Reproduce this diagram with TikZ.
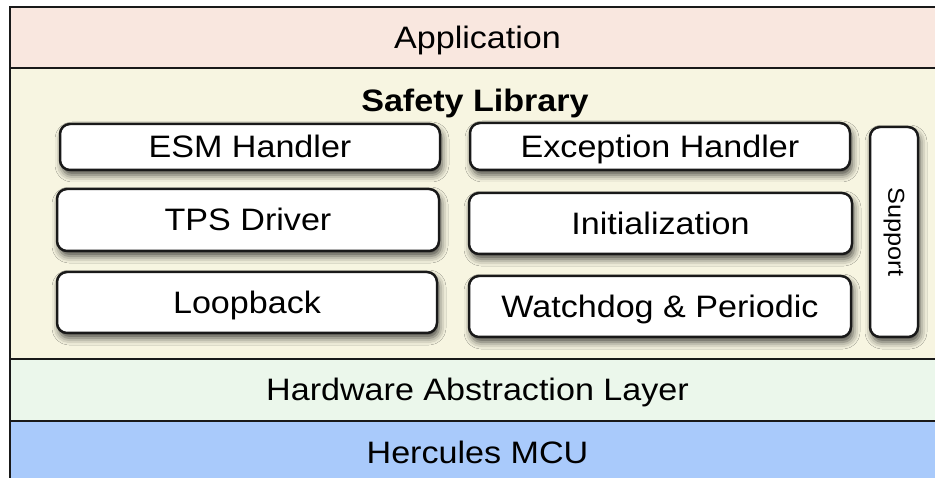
\documentclass[tikz,border=0pt]{standalone}
\usepackage{fontspec}
\setmainfont{Liberation Sans}[FakeStretch=1.1]
\usetikzlibrary{shadows.blur}
\definecolor{appfill}{HTML}{F9E7DF}
\definecolor{libfill}{HTML}{F7F5E1}
\definecolor{halfill}{HTML}{EBF7EB}
\definecolor{mcufill}{HTML}{A9CAFB}
\newcommand{\layerfont}{\fontsize{31}{36}\selectfont}
\tikzset{
  layer/.style={draw=black!90,line width=2pt,minimum width=935pt,inner sep=0pt,
    text height=22pt,text depth=0pt,font=\layerfont},
  module/.style={draw=black!90,line width=2.5pt,rounded corners=10pt,fill=white,
    inner sep=0pt,text height=22pt,text depth=0pt,font=\layerfont,
    blur shadow={shadow xshift=2pt,shadow yshift=-5pt,shadow blur radius=7pt,shadow opacity=70}},
}

\begin{document}
\begin{tikzpicture}[x=1pt,y=-1pt]
\useasboundingbox (0,0) rectangle (935,478);
\clip (0,0) rectangle (935,478);
\node[layer,fill=appfill,minimum height=61pt] (app) at (477.5,37.5) {Application};
\node[layer,fill=libfill,minimum height=291pt] (lib) at (477.5,213.5) {};
\node[layer,fill=halfill,minimum height=62pt] (hal) at (477.5,390) {Hardware Abstraction Layer};
\node[layer,fill=mcufill,minimum height=64pt] (mcu) at (477.5,453) {Hercules MCU};
\node[font=\layerfont\bfseries,anchor=base] (libtitle) at (475,111.5) {Safety Library};
\node[module,minimum width=380pt,minimum height=46pt] (esm) at (250,147) {ESM Handler};
\node[module,minimum width=382pt,minimum height=62pt] (tps) at (248,220) {TPS Driver};
\node[module,minimum width=380pt,minimum height=61pt] (loop) at (247,302.5) {Loopback};
\node[module,minimum width=380pt,minimum height=47pt] (exc) at (660,146.5) {Exception Handler};
\node[module,minimum width=383pt,minimum height=61pt] (init) at (660.5,223.5) {Initialization};
\node[module,minimum width=382pt,minimum height=61pt] (wdog) at (660,306.5) {Watchdog \& Periodic};
\node[module,minimum width=48pt,minimum height=210pt,text height=,text depth=,
  font=\fontsize{23}{26}\selectfont] (support) at (894,232) {\rotatebox{-90}{Support}};
\end{tikzpicture}
\end{document}
